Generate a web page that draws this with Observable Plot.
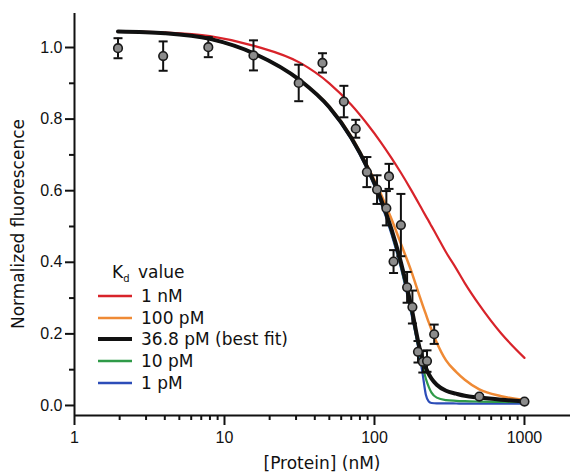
<!DOCTYPE html>
<html><head><meta charset="utf-8">
<script src="https://cdn.jsdelivr.net/npm/d3@7"></script>
<script src="https://cdn.jsdelivr.net/npm/@observablehq/plot@0.6"></script>
<style>
body{margin:0;background:#fff}
#chart{position:relative;width:570px;height:473px}
</style>
</head><body><div id="chart"></div>
<script>
// measured points: [Protein] (nM), normalized fluorescence, error
const conc  = [1.95, 3.9, 7.8, 15.6, 31.25, 45, 62.5, 75, 89, 104, 120, 125, 134, 150, 165, 179, 195, 210, 224, 250, 500, 1000];
const fluor = [0.998, 0.976, 1.001, 0.978, 0.901, 0.957, 0.849, 0.773, 0.652, 0.603, 0.551, 0.640, 0.402, 0.504, 0.330, 0.275, 0.150, 0.122, 0.124, 0.199, 0.025, 0.011];
const errs  = [0.028, 0.041, 0.028, 0.042, 0.051, 0.027, 0.044, 0.025, 0.042, 0.040, 0.048, 0.035, 0.032, 0.087, 0.043, 0.046, 0.030, 0.030, 0.030, 0.027, 0.004, 0.004];

// simulated curves
const curveConc = [1.95, 4, 8, 16, 32, 50, 70, 90, 110, 130, 150, 175, 200, 210, 220, 230, 240, 260, 300, 350, 400, 500, 700, 1000];
const fit1nM    = [1.045, 1.042, 1.032, 1.004, 0.957, 0.900, 0.840, 0.785, 0.736, 0.691, 0.650, 0.603, 0.560, 0.544, 0.529, 0.515, 0.501, 0.475, 0.428, 0.383, 0.342, 0.281, 0.201, 0.133];
const fit100pM  = [1.045, 1.040, 1.024, 0.982, 0.908, 0.835, 0.752, 0.668, 0.592, 0.520, 0.452, 0.378, 0.305, 0.279, 0.255, 0.232, 0.212, 0.176, 0.126, 0.094, 0.072, 0.045, 0.026, 0.015];
const fitBest   = [1.045, 1.040, 1.024, 0.982, 0.908, 0.833, 0.748, 0.663, 0.578, 0.491, 0.400, 0.281, 0.160, 0.128, 0.105, 0.088, 0.075, 0.058, 0.041, 0.033, 0.027, 0.022, 0.016, 0.011];
const fit10pM   = [1.045, 1.040, 1.024, 0.982, 0.908, 0.832, 0.746, 0.660, 0.572, 0.483, 0.390, 0.268, 0.148, 0.108, 0.075, 0.052, 0.036, 0.022, 0.015, 0.013, 0.012, 0.011, 0.010, 0.009];
const fit1pM    = [1.045, 1.040, 1.024, 0.982, 0.908, 0.831, 0.744, 0.657, 0.568, 0.478, 0.385, 0.262, 0.140, 0.085, 0.030, 0.011, 0.007, 0.006, 0.006, 0.0055, 0.005, 0.005, 0.005, 0.005];

const seriesNames  = ["1 nM", "100 pM", "36.8 pM (best fit)", "10 pM", "1 pM"];
const seriesColors = ["#d8232a", "#ef8a35", "#111111", "#2f9a48", "#2c4db8"];
const seriesWidths = [2.2, 2.5, 4, 2.2, 2.2];
const seriesValues = [fit1nM, fit100pM, fitBest, fit10pM, fit1pM];

const yMajor = [0, 0.2, 0.4, 0.6, 0.8, 1.0];
const yMinor = [0.1, 0.3, 0.5, 0.7, 0.9];
const xMajor = [1, 10, 100, 1000];
const xMinor = [2,3,4,5,6,7,8,9,20,30,40,50,60,70,80,90,200,300,400,500,600,700,800,900];

const points = conc.map((c, i) => ({c, f: fluor[i], e: errs[i]}));
const curves = seriesNames.map((name, k) => ({
  name, color: seriesColors[k], width: seriesWidths[k],
  rows: curveConc.map((c, i) => ({c, f: seriesValues[k][i]}))
}));
const drawOrder = [0, 1, 4, 3, 2];

const capSymbol = {draw(ctx) { ctx.moveTo(-4.5, 0); ctx.lineTo(4.5, 0); }};
const yMin = -0.028, yMax = 1.095;

const tickFont = "Liberation Sans, Arial, sans-serif";
const titleFont = "DejaVu Sans, sans-serif";

const plot = Plot.plot({
  width: 570, height: 473,
  marginLeft: 74, marginRight: 0, marginTop: 13, marginBottom: 58,
  style: {fontFamily: tickFont, fontSize: "16px", color: "#111", background: "#fff"},
  x: {type: "log", domain: [1, 2027]},
  y: {domain: [yMin, yMax]},
  marks: [
    ...drawOrder.map(k => Plot.line(curves[k].rows, {x: "c", y: "f", stroke: curves[k].color, strokeWidth: curves[k].width, curve: "monotone-x"})),
    Plot.ruleX(points, {x: "c", y1: d => d.f - d.e, y2: d => d.f + d.e, stroke: "#111", strokeWidth: 2}),
    Plot.dot(points, {x: "c", y: d => d.f + d.e, symbol: capSymbol, r: 3, stroke: "#111", strokeWidth: 2, fill: "none"}),
    Plot.dot(points, {x: "c", y: d => d.f - d.e, symbol: capSymbol, r: 3, stroke: "#111", strokeWidth: 2, fill: "none"}),
    Plot.dot(points, {x: "c", y: "f", r: 4.3, fill: "#8c8c8c", stroke: "#1a1a1a", strokeWidth: 1.6}),
    Plot.axisY({ticks: yMajor, tickSize: 9, tickPadding: 3, tickFormat: d3.format(".1f"), strokeWidth: 2, label: null, fontSize: 16}),
    Plot.axisY({ticks: yMinor, tickSize: 5, tickFormat: () => "", strokeWidth: 2, label: null}),
    Plot.axisX({ticks: xMajor, tickSize: 10, tickPadding: 6, tickFormat: d => String(d), strokeWidth: 2, label: null, fontSize: 16}),
    Plot.axisX({ticks: xMinor, tickSize: 5, tickFormat: () => "", strokeWidth: 2, label: null}),
    Plot.ruleX([1], {stroke: "#111", strokeWidth: 2}),
    Plot.ruleY([yMin], {stroke: "#111", strokeWidth: 2})
  ]
});

const svg = d3.select(plot);
// axis titles
svg.append("text").attr("x", 322).attr("y", 469).attr("text-anchor", "middle")
  .attr("font-family", titleFont).attr("font-size", 17).attr("fill", "#111").text("[Protein] (nM)");
svg.append("text").attr("transform", "translate(24,224) rotate(-90)").attr("text-anchor", "middle")
  .attr("font-family", titleFont).attr("font-size", 17).attr("fill", "#111").text("Normalized fluorescence");

// legend
const lg = svg.append("g").attr("font-family", titleFont).attr("font-size", 17).attr("fill", "#111")
  .attr("text-anchor", "start");
const head = lg.append("text").attr("x", 112).attr("y", 278).attr("text-anchor", "start");
head.append("tspan").text("K");
head.append("tspan").attr("font-size", 10).attr("dy", 4).text("d");
head.append("tspan").attr("x", 138).attr("dy", -4).text("value");
const rowY = [296, 318, 339, 361, 383];
seriesNames.forEach((name, k) => {
  lg.append("line").attr("x1", 98).attr("x2", 132).attr("y1", rowY[k]).attr("y2", rowY[k])
    .attr("stroke", seriesColors[k]).attr("stroke-width", k === 2 ? 4 : 2.5);
  lg.append("text").attr("x", 141).attr("y", rowY[k] + 6).attr("text-anchor", "start").text(name);
});

document.getElementById("chart").appendChild(plot);
</script>
</body></html>
